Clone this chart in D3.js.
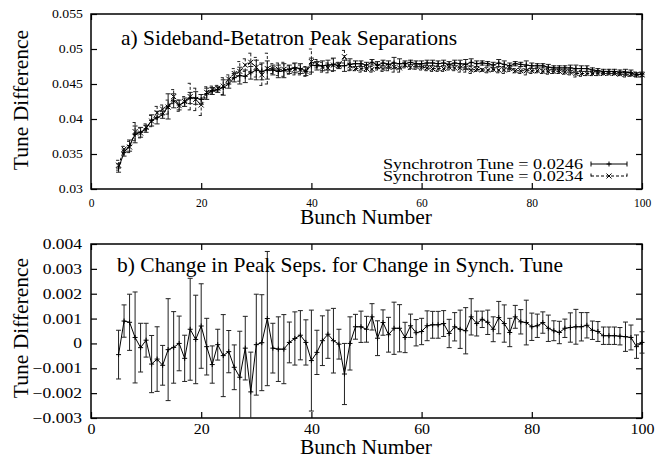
<!DOCTYPE html>
<html>
<head>
<meta charset="utf-8">
<script src="https://cdn.jsdelivr.net/npm/d3@7"></script>
<style>
  body { margin: 0; background: #fff; }
  svg { display: block; }
  text { font-family: "Liberation Serif", "DejaVu Serif", serif; fill: #000; }
</style>
</head>
<body>
<svg id="chart" width="670" height="458"></svg>
<script>
// tune separations vs bunch number, two synch tunes + their difference

var bunch = d3.range(5, 101);

// synch tune 0.0246 (solid, +)
var tuneA = [0.0330,0.0352,0.0362,0.0378,0.0381,0.0386,0.0398,0.0402,0.0406,0.0418,
  0.0426,0.0420,0.0424,0.0430,0.0430,0.0428,0.0436,0.0440,0.0442,0.0445,
  0.0450,0.0459,0.0462,0.0461,0.0466,0.0470,0.0468,0.0470,0.0470,0.0468,
  0.0469,0.0471,0.0473,0.0472,0.0468,0.0477,0.0476,0.0476,0.0477,0.0478,
  0.0476,0.0476,0.0478,0.0479,0.0479,0.0477,0.0481,0.0477,0.0480,0.0478,
  0.0480,0.0479,0.0479,0.0481,0.0479,0.0479,0.0480,0.0480,0.0479,0.0480,
  0.0478,0.0480,0.0479,0.0478,0.0481,0.0479,0.0480,0.0479,0.0477,0.0480,
  0.0478,0.0476,0.0479,0.0478,0.0477,0.0476,0.0476,0.0476,0.0474,0.0473,
  0.0473,0.0473,0.0473,0.0472,0.0472,0.0472,0.0470,0.0469,0.0468,0.0468,
  0.0468,0.0467,0.0467,0.0466,0.0463,0.0464];
var errA = [0.0006,0.0005,0.0008,0.0012,0.0007,0.0005,0.0008,0.0009,0.0005,0.0018,
  0.0010,0.0007,0.0006,0.0008,0.0009,0.0007,0.0008,0.0005,0.0004,0.0011,
  0.0006,0.0006,0.0012,0.0009,0.0009,0.0014,0.0012,0.0013,0.0007,0.0009,
  0.0010,0.0006,0.0007,0.0007,0.0006,0.0010,0.0006,0.0007,0.0007,0.0009,
  0.0004,0.0008,0.0008,0.0004,0.0004,0.0004,0.0004,0.0005,0.0004,0.0005,
  0.0008,0.0007,0.0004,0.0003,0.0004,0.0004,0.0004,0.0004,0.0004,0.0004,
  0.0004,0.0004,0.0005,0.0007,0.0005,0.0004,0.0003,0.0003,0.0004,0.0005,
  0.0005,0.0004,0.0003,0.0003,0.0006,0.0004,0.0003,0.0003,0.0004,0.0003,
  0.0003,0.0003,0.0004,0.0005,0.0004,0.0004,0.0003,0.0003,0.0003,0.0003,
  0.0003,0.0003,0.0004,0.0004,0.0003,0.0003];

// synch tune 0.0234 (dashed, x)
var tuneB = [0.0334,0.0357,0.0360,0.0382,0.0380,0.0388,0.0397,0.0409,0.0414,0.0417,
  0.0432,0.0419,0.0425,0.0432,0.0428,0.0420,0.0438,0.0442,0.0444,0.0447,
  0.0457,0.0465,0.0468,0.0477,0.0481,0.0474,0.0463,0.0472,0.0472,0.0471,
  0.0471,0.0470,0.0471,0.0470,0.0468,0.0482,0.0479,0.0474,0.0473,0.0477,
  0.0477,0.0489,0.0476,0.0472,0.0472,0.0472,0.0471,0.0475,0.0472,0.0474,
  0.0474,0.0473,0.0477,0.0474,0.0475,0.0474,0.0473,0.0472,0.0472,0.0472,
  0.0474,0.0473,0.0473,0.0473,0.0470,0.0471,0.0470,0.0470,0.0471,0.0470,
  0.0470,0.0472,0.0469,0.0469,0.0469,0.0469,0.0469,0.0468,0.0468,0.0468,
  0.0468,0.0467,0.0467,0.0465,0.0465,0.0465,0.0465,0.0465,0.0465,0.0465,
  0.0465,0.0464,0.0464,0.0464,0.0464,0.0463];
var errB = [0.0007,0.0004,0.0008,0.0013,0.0007,0.0005,0.0008,0.0009,0.0006,0.0010,
  0.0010,0.0008,0.0007,0.0019,0.0016,0.0015,0.0008,0.0005,0.0004,0.0012,
  0.0006,0.0007,0.0014,0.0009,0.0013,0.0014,0.0015,0.0022,0.0007,0.0009,
  0.0010,0.0006,0.0008,0.0007,0.0007,0.0018,0.0006,0.0007,0.0007,0.0009,
  0.0004,0.0009,0.0007,0.0003,0.0005,0.0004,0.0004,0.0005,0.0004,0.0005,
  0.0007,0.0006,0.0004,0.0003,0.0004,0.0004,0.0004,0.0004,0.0004,0.0004,
  0.0004,0.0004,0.0006,0.0006,0.0005,0.0003,0.0002,0.0004,0.0003,0.0004,
  0.0005,0.0004,0.0003,0.0004,0.0006,0.0004,0.0003,0.0003,0.0004,0.0003,
  0.0003,0.0003,0.0004,0.0005,0.0004,0.0003,0.0003,0.0003,0.0002,0.0002,
  0.0002,0.0002,0.0004,0.0003,0.0003,0.0003];

// change in peak seps
var diff = [-0.00045,0.00090,0.00085,0.00024,-0.00017,0.00013,-0.00083,-0.00063,-0.00088,-0.00025,
  -0.00016,0.00000,-0.00060,0.00057,0.00016,0.00070,-0.00013,-0.00085,-0.00005,-0.00049,
  -0.00033,-0.00096,-0.00136,-0.00019,-0.00195,-0.00005,0.00003,0.00100,-0.00019,-0.00023,
  -0.00023,0.00004,0.00020,0.00033,0.00004,-0.00069,-0.00036,0.00011,0.00037,0.00011,
  -0.00003,-0.00123,0.00000,0.00067,0.00067,0.00057,0.00107,0.00021,0.00084,0.00035,
  0.00061,0.00061,0.00024,0.00071,0.00043,0.00048,0.00071,0.00075,0.00075,0.00080,
  0.00040,0.00067,0.00057,0.00051,0.00107,0.00080,0.00097,0.00085,0.00057,0.00104,
  0.00080,0.00044,0.00107,0.00087,0.00084,0.00067,0.00071,0.00084,0.00061,0.00051,
  0.00044,0.00061,0.00064,0.00067,0.00067,0.00073,0.00053,0.00048,0.00031,0.00031,
  0.00031,0.00029,0.00027,0.00024,-0.00013,0.00004];
var diffErr = [0.00098,0.00065,0.00113,0.00183,0.00098,0.00068,0.00115,0.00130,0.00080,0.00205,
  0.00144,0.00110,0.00093,0.00205,0.00178,0.00170,0.00114,0.00075,0.00062,0.00165,
  0.00085,0.00090,0.00185,0.00128,0.00160,0.00203,0.00193,0.00270,0.00100,0.00130,
  0.00139,0.00082,0.00107,0.00099,0.00091,0.00203,0.00089,0.00100,0.00097,0.00130,
  0.00060,0.00123,0.00107,0.00050,0.00063,0.00052,0.00053,0.00070,0.00051,0.00070,
  0.00105,0.00095,0.00061,0.00047,0.00053,0.00053,0.00060,0.00054,0.00054,0.00052,
  0.00057,0.00057,0.00077,0.00093,0.00073,0.00050,0.00033,0.00049,0.00050,0.00065,
  0.00075,0.00057,0.00046,0.00049,0.00090,0.00055,0.00047,0.00043,0.00053,0.00040,
  0.00045,0.00037,0.00059,0.00070,0.00057,0.00051,0.00037,0.00040,0.00035,0.00035,
  0.00035,0.00035,0.00059,0.00050,0.00047,0.00043];

var xTicks = [0, 20, 40, 60, 80, 100];
var yTicksTop = [0.03, 0.035, 0.04, 0.045, 0.05, 0.055];
var yTicksBot = [-0.003, -0.002, -0.001, 0, 0.001, 0.002, 0.003, 0.004];

var svg = d3.select('#chart');
var left = 91, right = 642;

// squeeze/stretch text horizontally like the original eps fonts
function stretch(sel, k) {
    sel.each(function() {
        var w = this.getComputedTextLength();
        d3.select(this).attr('textLength', w * k).attr('lengthAdjust', 'spacingAndGlyphs');
    });
}

function panel(id, top, bottom, yDomain, yTicks, fmt, opts) {
    var x = d3.scaleLinear().domain([0, 100]).range([left, right]);
    var y = d3.scaleLinear().domain(yDomain).range([bottom, top]);
    var g = svg.append('g').attr('class', id);

    g.append('clipPath').attr('id', 'clip-' + id)
        .append('rect').attr('x', left - 6).attr('y', top)
        .attr('width', right - left + 12).attr('height', bottom - top);

    // axes, ticks inward on all four sides
    var ax = g.append('g').attr('transform', 'translate(0,' + bottom + ')')
        .call(d3.axisBottom(x).tickValues(xTicks).tickSize(-6).tickPadding(opts.xPad).tickFormat(d3.format('d')));
    g.append('g').attr('transform', 'translate(0,' + top + ')')
        .call(d3.axisTop(x).tickValues(xTicks).tickSize(-6).tickFormat(''));
    var ay = g.append('g').attr('transform', 'translate(' + left + ',0)')
        .call(d3.axisLeft(y).tickValues(yTicks).tickSize(-6).tickPadding(opts.yPad).tickFormat(fmt));
    g.append('g').attr('transform', 'translate(' + right + ',0)')
        .call(d3.axisRight(y).tickValues(yTicks).tickSize(-6).tickFormat(''));
    g.selectAll('.domain').remove();
    g.selectAll('.tick line').attr('stroke', '#000').attr('stroke-width', 1.2);
    ax.selectAll('text').style('font-size', opts.xFont + 'px').attr('fill', '#000');
    ay.selectAll('text').style('font-size', opts.yFont + 'px').attr('fill', '#000');
    stretch(ay.selectAll('text'), opts.yStretch);
    stretch(ax.selectAll('text'), opts.xStretch);

    g.append('rect').attr('x', left).attr('y', top)
        .attr('width', right - left).attr('height', bottom - top)
        .attr('fill', 'none').attr('stroke', '#000').attr('stroke-width', 1.5);

    return { x: x, y: y, g: g, clip: 'url(#clip-' + id + ')' };
}

function series(p, vals, errs, dash, marker) {
    var layer = p.g.append('g').attr('clip-path', p.clip)
        .attr('stroke', '#000').attr('fill', 'none').attr('stroke-width', 1);
    var pts = bunch.map(function(b, i) { return { b: b, v: vals[i], e: errs[i] }; });

    var bars = layer.append('g').attr('stroke', '#222');
    if (dash) bars.attr('stroke-dasharray', dash);
    bars.selectAll('path').data(pts).enter().append('path')
        .attr('d', function(d) {
            var cx = p.x(d.b), y0 = p.y(d.v - d.e), y1 = p.y(d.v + d.e);
            return 'M' + cx + ',' + y0 + 'V' + y1 +
                'M' + (cx - 2.5) + ',' + y0 + 'H' + (cx + 2.5) +
                'M' + (cx - 2.5) + ',' + y1 + 'H' + (cx + 2.5);
        });

    var line = d3.line().x(function(d) { return p.x(d.b); }).y(function(d) { return p.y(d.v); });
    var ln = layer.append('path').datum(pts).attr('d', line);
    if (dash) ln.attr('stroke-dasharray', dash);

    layer.append('g').selectAll('path').data(pts).enter().append('path')
        .attr('d', function(d) { return marker(p.x(d.b), p.y(d.v)); });
}

function plus(cx, cy) { var s = 2.5; return 'M' + (cx - s) + ',' + cy + 'H' + (cx + s) + 'M' + cx + ',' + (cy - s) + 'V' + (cy + s); }
function cross(cx, cy) { var s = 2.5; return 'M' + (cx - s) + ',' + (cy - s) + 'L' + (cx + s) + ',' + (cy + s) + 'M' + (cx - s) + ',' + (cy + s) + 'L' + (cx + s) + ',' + (cy - s); }

// ---- top panel
var pa = panel('a', 14, 189, [0.03, 0.055], yTicksTop, function(d) { return d3.format('')(+d.toFixed(3)); },
    { xPad: 10, yPad: 8, xFont: 11.5, yFont: 11.5, xStretch: 1.0, yStretch: 1.2 });
series(pa, tuneB, errB, '3,2', cross);
series(pa, tuneA, errA, null, plus);

pa.g.append('text').attr('x', 121).attr('y', 45).style('font-size', '21.5px')
    .text('a) Sideband-Betatron Peak Separations');
pa.g.append('text').attr('x', 366).attr('y', 224).attr('text-anchor', 'middle').style('font-size', '21.5px')
    .text('Bunch Number');
pa.g.append('text').attr('transform', 'translate(28,100) rotate(-90)').attr('text-anchor', 'middle')
    .style('font-size', '21.5px').text('Tune Difference');

// legend
var legend = [
    { label: 'Synchrotron Tune = 0.0246', dash: null, marker: plus, y: 164 },
    { label: 'Synchrotron Tune = 0.0234', dash: '3,2', marker: cross, y: 176 }
];
var lg = pa.g.append('g');
legend.forEach(function(l) {
    var t = lg.append('text').attr('x', 583).attr('y', l.y + 5).attr('text-anchor', 'end')
        .style('font-size', '15px').text(l.label);
    t.attr('textLength', 200).attr('lengthAdjust', 'spacingAndGlyphs');
    var s = lg.append('g').attr('stroke', '#000').attr('fill', 'none').attr('stroke-width', 1);
    if (l.dash) s.attr('stroke-dasharray', l.dash);
    s.append('path').attr('d', 'M591,' + l.y + 'H627M591,' + (l.y - 2.5) + 'V' + (l.y + 2.5) + 'M627,' + (l.y - 2.5) + 'V' + (l.y + 2.5));
    lg.append('path').attr('stroke', '#000').attr('d', l.marker(609, l.y));
});

// ---- bottom panel
var pb = panel('b', 244, 418, [-0.003, 0.004], yTicksBot, function(d) { return d === 0 ? '0' : d3.format('.3f')(d); },
    { xPad: 6, yPad: 9, xFont: 14.5, yFont: 14, xStretch: 1.1, yStretch: 1.25 });
series(pb, diff, diffErr, null, plus);

pb.g.append('text').attr('x', 117).attr('y', 272).style('font-size', '21.5px')
    .text('b) Change in Peak Seps. for Change in Synch. Tune');
pb.g.append('text').attr('x', 366).attr('y', 454).attr('text-anchor', 'middle').style('font-size', '21.5px')
    .text('Bunch Number');
pb.g.append('text').attr('transform', 'translate(28,328) rotate(-90)').attr('text-anchor', 'middle')
    .style('font-size', '21.5px').text('Tune Difference');
</script>
</body>
</html>
